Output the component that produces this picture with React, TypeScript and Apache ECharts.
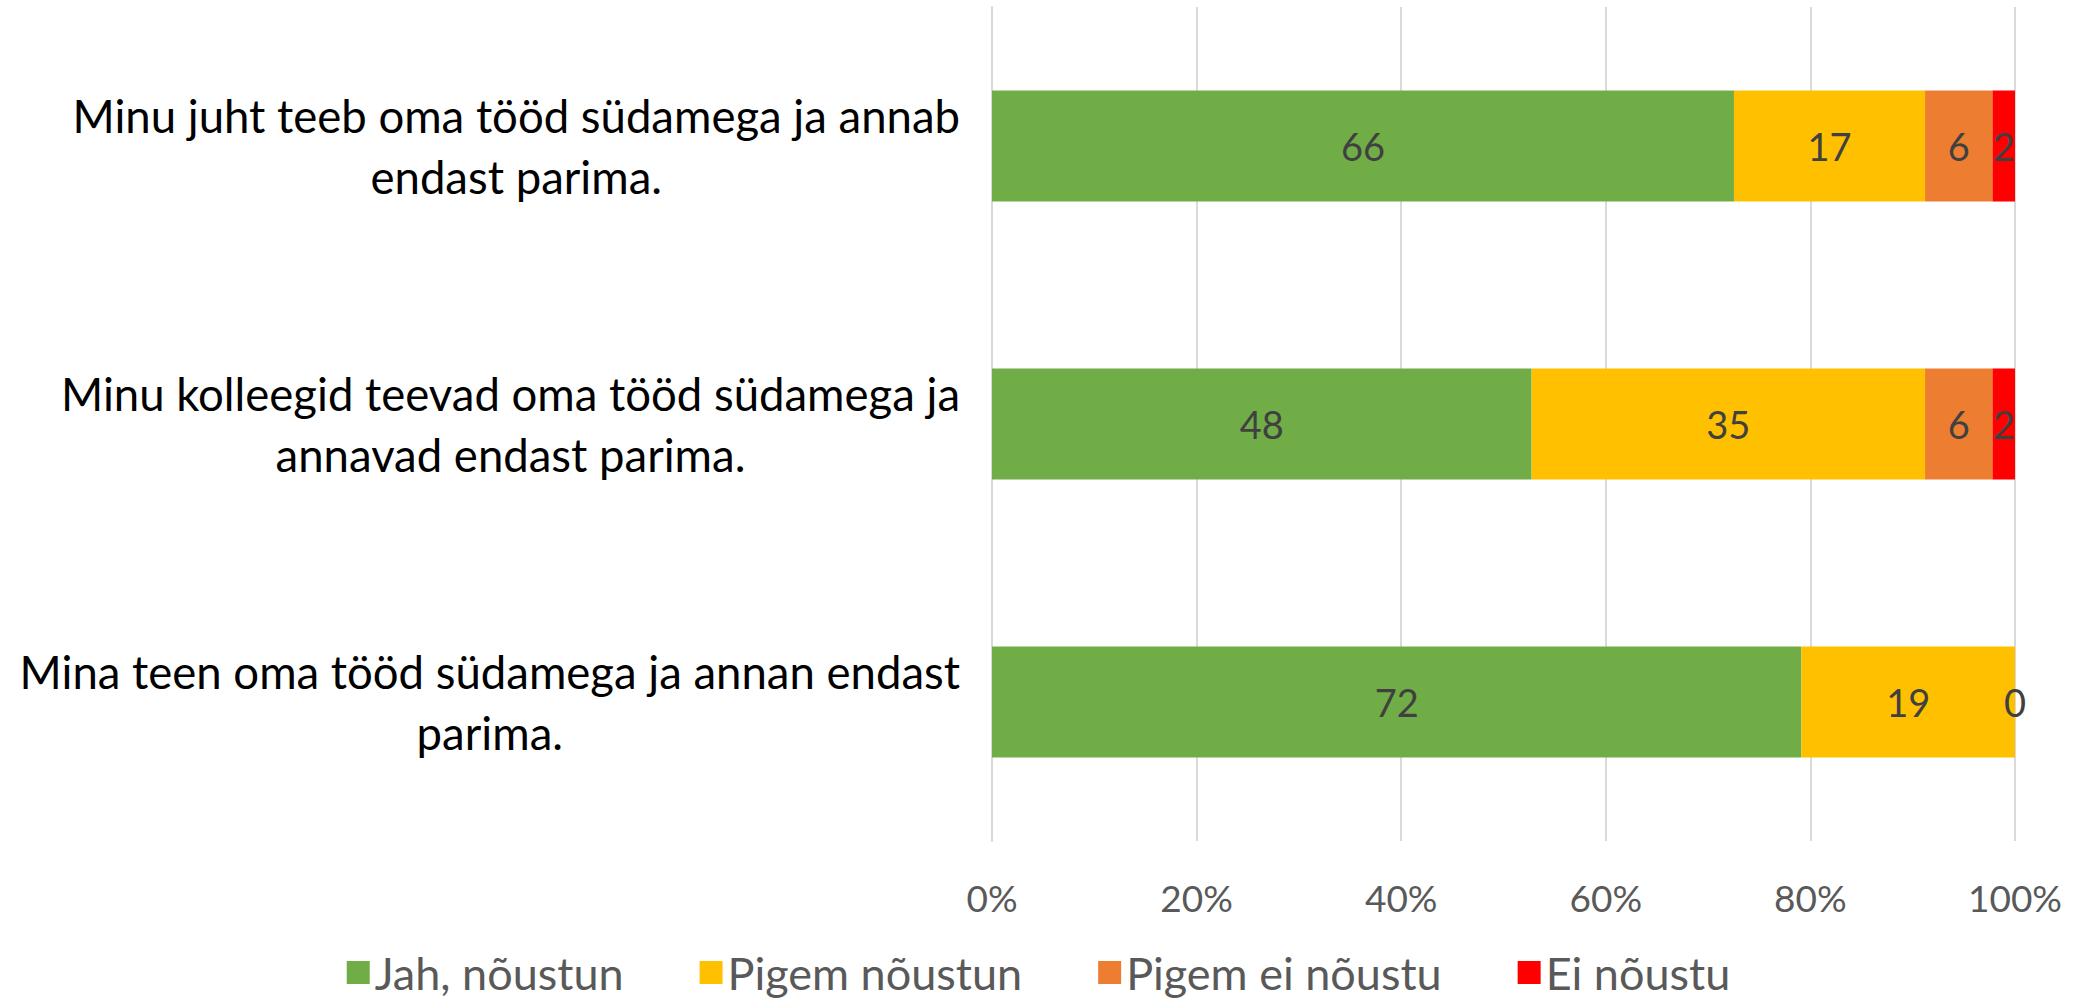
import React, { useEffect, useRef } from "react";
import * as echarts from "echarts";

// Categories, bottom to top (ECharts category y axis starts at the bottom)
const categories = [
  "Mina teen oma tööd südamega ja annan endast\nparima.",
  "Minu kolleegid teevad oma tööd südamega ja\nannavad endast parima.",
  "Minu juht teeb oma tööd südamega ja annab\nendast parima.",
];

const seriesNames = ["Jah, nõustun", "Pigem nõustun", "Pigem ei nõustu", "Ei nõustu"];
const jah = [72, 48, 66];
const pigemJah = [19, 35, 17];
const pigemEi = [0, 6, 6];
const ei = [0, 2, 2];
const colors = ["#70AD47", "#FFC000", "#ED7D31", "#FF0000"];
const xTicks = [0, 20, 40, 60, 80, 100];

const FONT = "Lato, 'Noto Sans', sans-serif";

export default function App() {
  const ref = useRef<HTMLDivElement>(null);
  useEffect(() => {
    if (!ref.current) return;
    const chart = echarts.init(ref.current, undefined, { renderer: "svg" });
    const raw = [jah, pigemJah, pigemEi, ei];
    const totals = categories.map((_, i) => raw.reduce((s, arr) => s + arr[i], 0));
    const series = raw.map((arr, si) => ({
      name: seriesNames[si],
      type: "bar",
      stack: "total",
      barWidth: "40%",
      itemStyle: { color: colors[si] },
      label: {
        show: true,
        position: "inside",
        color: "#404040",
        fontSize: 38,
        fontFamily: FONT,
        formatter: (p: any) => {
          const v = arr[p.dataIndex];
          if (v === 0) {
            // show only one "0" label per row when several segments are empty
            for (let k = 0; k < si; k++) if (raw[k][p.dataIndex] === 0) return "";
          }
          return String(v);
        },
      },
      data: arr.map((v, i) => (v / totals[i]) * 100),
    }));
    chart.setOption({
      animation: false,
      grid: {
        left: 992,
        right: 62,
        top: 7,
        bottom: 159,
        containLabel: false,
        outerBoundsMode: "none",
      },
      legend: {
        data: seriesNames,
        top: 950,
        left: "center",
        icon: "rect",
        itemWidth: 23,
        itemHeight: 23,
        itemGap: 76,
        padding: 0,
        textStyle: { fontSize: 45, color: "#595959", fontFamily: FONT },
      },
      xAxis: {
        type: "value",
        min: 0,
        max: 100,
        interval: 20,
        axisLine: { show: false },
        axisTick: { show: false },
        splitLine: { lineStyle: { color: "#d9d9d9", width: 2 } },
        axisLabel: {
          formatter: (v: number) => (xTicks.includes(v) ? v + "%" : ""),
          fontSize: 37,
          color: "#595959",
          fontFamily: FONT,
          margin: 38,
        },
      },
      yAxis: {
        type: "category",
        data: categories,
        axisLine: { show: true, lineStyle: { color: "#d9d9d9", width: 2 } },
        axisTick: { show: false },
        axisLabel: {
          margin: 32,
          align: "right",
          formatter: (v: string) =>
            v
              .split("\n")
              .map((line) => "{c|" + line + "}")
              .join("\n"),
          rich: {
            c: {
              align: "center",
              fontSize: 45.5,
              lineHeight: 61,
              color: "#000000",
              fontFamily: FONT,
            },
          },
        },
      },
      series,
    });
    return () => chart.dispose();
  }, []);
  return (
    <div
      ref={ref}
      style={{ position: "absolute", left: 0, top: 0, width: 2077, height: 1000, background: "#fff" }}
    />
  );
}
